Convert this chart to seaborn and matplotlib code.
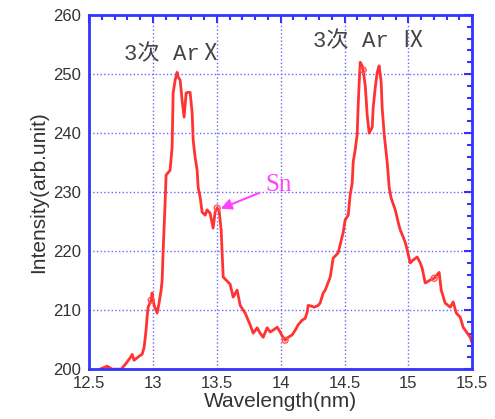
import pandas as pd
import matplotlib.pyplot as plt
from matplotlib.ticker import MultipleLocator
import seaborn as sns

# spectrum
wavelength = [12.586, 12.641, 12.680, 12.751, 12.790, 12.821, 12.837, 12.852, 12.892, 12.915,
              12.931, 12.946, 12.954, 12.962, 12.986, 12.993, 13.009, 13.033, 13.048, 13.064,
              13.072, 13.080, 13.095, 13.103, 13.134, 13.150, 13.158, 13.174, 13.189, 13.197,
              13.213, 13.228, 13.244, 13.260, 13.275, 13.291, 13.307, 13.315, 13.330, 13.346,
              13.354, 13.369, 13.385, 13.409, 13.424, 13.448, 13.471, 13.487, 13.503, 13.518,
              13.534, 13.550, 13.581, 13.604, 13.628, 13.659, 13.683, 13.722, 13.761, 13.785,
              13.816, 13.839, 13.863, 13.894, 13.918, 13.941, 13.973, 13.996, 14.020, 14.035,
              14.059, 14.090, 14.114, 14.137, 14.168, 14.192, 14.208, 14.215, 14.239, 14.262,
              14.294, 14.309, 14.333, 14.349, 14.388, 14.411, 14.450, 14.489, 14.505, 14.529,
              14.544, 14.560, 14.568, 14.583, 14.599, 14.607, 14.615, 14.623, 14.638, 14.646,
              14.662, 14.670, 14.677, 14.693, 14.717, 14.724, 14.740, 14.756, 14.771, 14.787,
              14.795, 14.811, 14.834, 14.850, 14.865, 14.897, 14.920, 14.936, 14.959, 14.975,
              14.991, 15.014, 15.038, 15.069, 15.093, 15.108, 15.132, 15.171, 15.202, 15.241,
              15.257, 15.288, 15.328, 15.351, 15.375, 15.406, 15.429, 15.461, 15.484, 15.500]
intensity = [200.0, 200.5, 200.0, 200.0, 201.0, 201.9, 202.5, 201.5, 202.2, 202.5,
             203.7, 206.6, 208.8, 210.5, 211.7, 212.9, 210.8, 209.5, 211.2, 213.4,
             215.1, 220.2, 228.1, 232.9, 233.7, 237.6, 246.8, 249.0, 250.3, 249.5,
             249.0, 245.6, 242.7, 246.8, 246.9, 246.9, 243.4, 238.8, 235.9, 233.7,
             230.8, 229.2, 226.6, 226.1, 227.0, 226.4, 223.9, 226.6, 227.3, 226.9,
             223.6, 215.6, 214.9, 214.4, 212.2, 213.4, 210.8, 209.5, 207.5, 206.1,
             207.0, 206.1, 205.4, 207.0, 206.3, 206.6, 207.1, 206.3, 205.3, 204.9,
             205.4, 205.8, 206.6, 207.5, 208.3, 208.6, 209.7, 210.8, 210.7, 210.5,
             210.8, 211.2, 212.9, 213.4, 215.6, 218.8, 219.7, 223.1, 225.3, 226.1,
             229.5, 231.5, 235.1, 237.1, 239.7, 244.7, 248.6, 252.0, 251.4, 250.7,
             248.1, 245.6, 243.1, 240.0, 241.0, 244.2, 247.6, 250.3, 251.4, 248.6,
             244.2, 239.7, 235.1, 230.7, 229.0, 227.0, 224.9, 223.6, 222.4, 221.5,
             220.2, 218.0, 218.5, 219.0, 218.0, 217.1, 214.6, 215.1, 215.4, 216.4,
             213.4, 211.2, 210.5, 211.4, 209.5, 208.8, 207.1, 206.1, 205.4, 204.4]

# open circles sitting on the curve
circle_x = [12.986, 13.503, 14.646, 14.035, 15.202]
circle_y = [211.7, 227.3, 250.7, 204.9, 215.4]

x_ticks = [12.5, 13, 13.5, 14, 14.5, 15, 15.5]
x_tick_labels = ['12.5', '13', '13.5', '14', '14.5', '15', '15.5']
y_ticks = [200, 210, 220, 230, 240, 250, 260]

df = pd.DataFrame({'wl': wavelength, 'inten': intensity})

sns.set_style('white')
plt.rcParams['font.family'] = ['Liberation Sans', 'DejaVu Sans']

blue = '#3333ff'
fig = plt.figure(figsize=(4.95, 4.19), dpi=100)
ax = fig.add_axes([0.180, 0.119, 0.774, 0.845])

sns.lineplot(data=df, x='wl', y='inten', sort=False, estimator=None,
             color='#ff3333', linewidth=2.0, ax=ax)
ax.scatter(circle_x, circle_y, s=18, facecolors='none', edgecolors='#ff5555', linewidths=1, zorder=3)

ax.set_xlim(12.5, 15.5)
ax.set_ylim(200, 260)
ax.set_xticks(x_ticks)
ax.set_xticklabels(x_tick_labels)
ax.set_yticks(y_ticks)
ax.xaxis.set_minor_locator(MultipleLocator(0.1))
ax.yaxis.set_minor_locator(MultipleLocator(2))

ax.grid(True, which='major', color='#6666ff', linestyle=':', linewidth=1)
for s in ax.spines.values():
    s.set_color(blue)
    s.set_linewidth(2)
ax.tick_params(which='both', direction='in', color=blue, top=True, right=True,
               labelsize=12, labelcolor='#333333', width=1.5)
ax.tick_params(which='major', length=6)
ax.tick_params(which='minor', length=3.5)
ax.tick_params(axis='x', pad=5)
ax.tick_params(axis='y', pad=6)

ax.set_xlabel('Wavelength(nm)', fontsize=15, color='#333333', labelpad=1)
ax.set_ylabel('Intensity(arb.unit)', fontsize=15, color='#333333', labelpad=3)

lab_font = ['Liberation Mono', 'Noto Sans CJK SC']
ax.text(13.16, 253.3, '3次 ArⅩ', fontsize=16, color='#444444', ha='center', va='center', family=lab_font)
ax.text(14.69, 255.5, '3次 Ar Ⅸ', fontsize=16, color='#444444', ha='center', va='center', family=lab_font)

ax.annotate('Sn', xy=(13.53, 227.2), xytext=(13.88, 231.2), fontsize=18, color='#ff44ff',
            family=['Liberation Serif'], va='center', ha='left',
            arrowprops=dict(arrowstyle='-|>', color='#ff44ff', lw=1.5, mutation_scale=16,
                            shrinkA=2, shrinkB=0))

fig.savefig('out.png', dpi=100)
